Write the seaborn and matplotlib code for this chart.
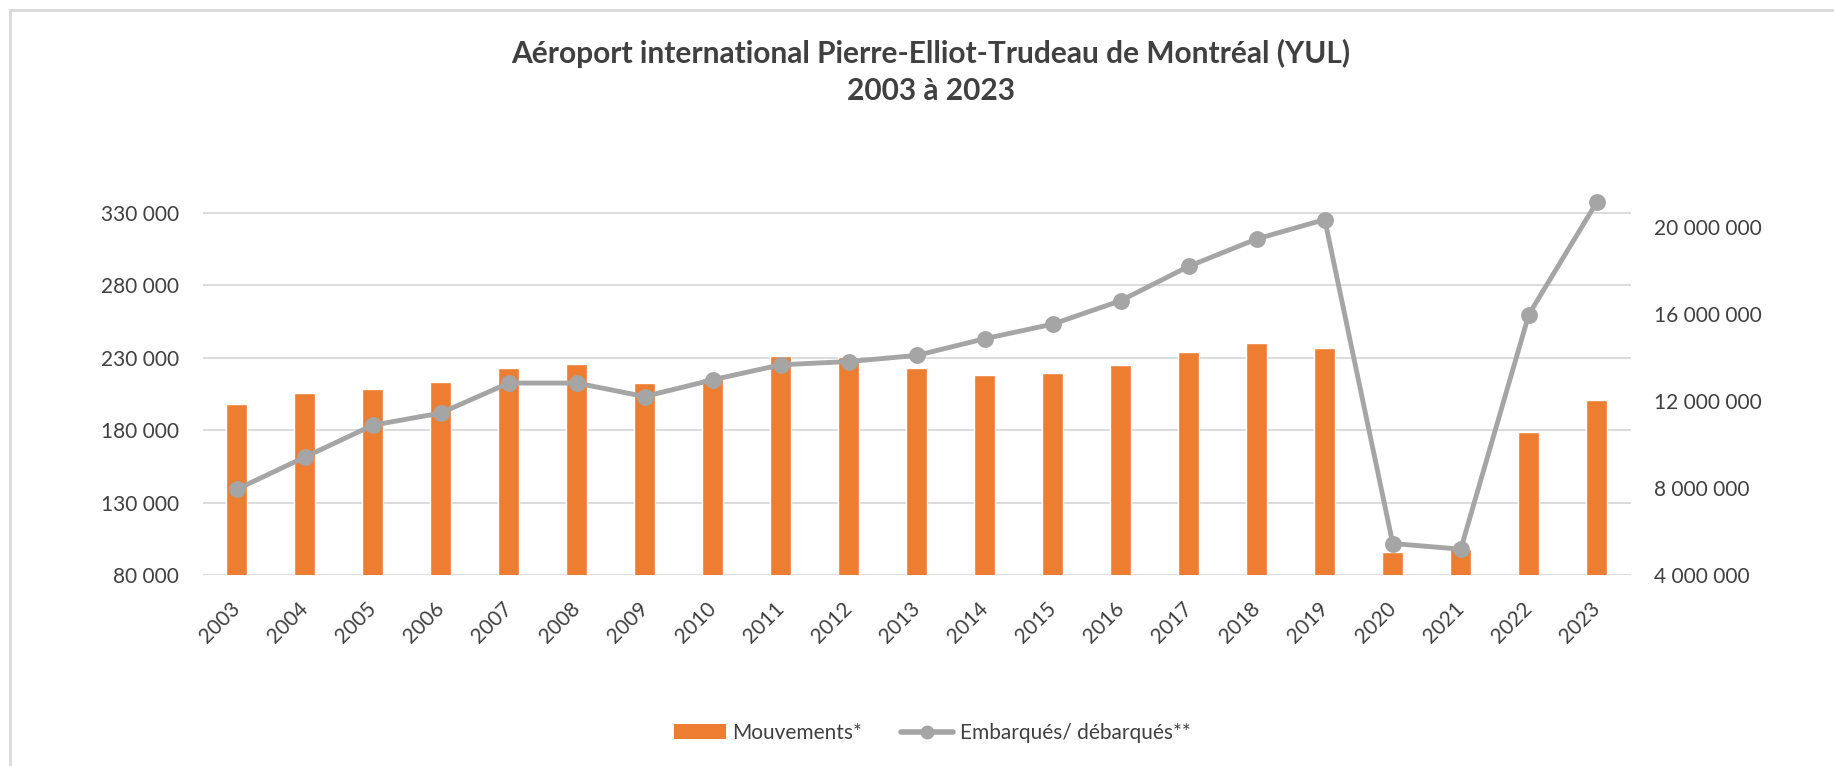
import matplotlib
matplotlib.use("Agg")
import matplotlib.pyplot as plt
from matplotlib.lines import Line2D
from matplotlib.patches import Patch
from matplotlib.ticker import FuncFormatter
import seaborn as sns

# data
annees = [str(a) for a in range(2003, 2024)]
mouvements = [198000, 205600, 208100, 213200, 222800, 225400, 212200,
              215700, 230900, 230200, 222600, 217800, 219200, 225100,
              234100, 239900, 236600, 96100, 97700, 178700, 200500]
passagers = [7_940_000, 9_420_000, 10_890_000, 11_450_000, 12_830_000, 12_830_000, 12_210_000,
             12_980_000, 13_670_000, 13_820_000, 14_100_000, 14_870_000, 15_540_000, 16_620_000,
             18_200_000, 19_460_000, 20_350_000, 5_450_000, 5_190_000, 15_980_000, 21_150_000]
titre = "Aéroport international Pierre-Elliot-Trudeau de Montréal (YUL)"
sous_titre = "2003 à 2023"
legende = ["Mouvements*", "Embarqués/ débarqués**"]

ORANGE = "#ED7D31"
GRIS = "#A5A5A5"
TEXTE = "#404040"
GRILLE = "#D9D9D9"

sns.set_theme(style="white")
plt.rcParams["font.family"] = ["Lato", "DejaVu Sans"]

fig = plt.figure(figsize=(18.34, 7.66), dpi=100)
ax1 = fig.add_axes([0.1105, 0.2493, 0.8892 - 0.1105, 0.7602 - 0.2493])
ax2 = ax1.twinx()

sns.barplot(x=annees, y=mouvements, ax=ax1, color=ORANGE, saturation=1,
            width=0.31, zorder=2)
sns.pointplot(x=annees, y=passagers, ax=ax2, color=GRIS, markers="o",
              linestyles="-", linewidth=3.5, markersize=9.5)

fmt = FuncFormatter(lambda v, p: f"{v:,.0f}".replace(",", " "))

ax1.set_ylim(80000, 350000)
ax1.set_yticks(range(80000, 330001, 50000))
ax1.yaxis.set_major_formatter(fmt)
ax1.yaxis.grid(True, color=GRILLE, lw=1.3, zorder=0)
ax1.set_axisbelow(True)
ax1.set_xlim(-0.5, len(annees) - 0.5)

ax2.set_ylim(4_000_000, 22_000_000)
ax2.set_yticks(range(4_000_000, 20_000_001, 4_000_000))
ax2.yaxis.set_major_formatter(fmt)
ax2.grid(False)
ax2.set_xlim(-0.5, len(annees) - 0.5)

for ax in (ax1, ax2):
    ax.set_xlabel("")
    ax.set_ylabel("")
    for s in ax.spines.values():
        s.set_visible(False)
    ax.tick_params(length=0, labelsize=15, labelcolor=TEXTE)

ax1.tick_params(axis="y", pad=17)
ax2.tick_params(axis="y", pad=17)
ax1.tick_params(axis="x", pad=22)
for lab in ax1.get_xticklabels():
    lab.set_rotation(45)
    lab.set_ha("right")
    lab.set_va("center")
    lab.set_rotation_mode("anchor")

fig.text(0.5076, 1 - 53 / 766, titre, ha="center", va="center",
         fontsize=21.5, fontweight="bold", color=TEXTE)
fig.text(0.5076, 1 - 91 / 766, sous_titre, ha="center", va="center",
         fontsize=21.5, fontweight="bold", color=TEXTE)

poignees = [Patch(facecolor=ORANGE, edgecolor="none"),
            Line2D([0], [0], color=GRIS, lw=4, marker="o", ms=9)]
fig.legend(poignees, legende, loc="center", ncol=2,
           bbox_to_anchor=(932 / 1834, 1 - 733 / 766), frameon=False,
           fontsize=15, labelcolor=TEXTE, handlelength=2.5, handleheight=0.7,
           handletextpad=0.3, columnspacing=1.9)

# light frame of the chart area
fig.add_artist(Line2D([10 / 1834, 1], [1 - 10 / 766, 1 - 10 / 766],
                      transform=fig.transFigure, color=GRILLE, lw=2))
fig.add_artist(Line2D([10 / 1834, 10 / 1834], [0, 1 - 10 / 766],
                      transform=fig.transFigure, color=GRILLE, lw=2))

fig.savefig("out.png", dpi=100, facecolor="white")
